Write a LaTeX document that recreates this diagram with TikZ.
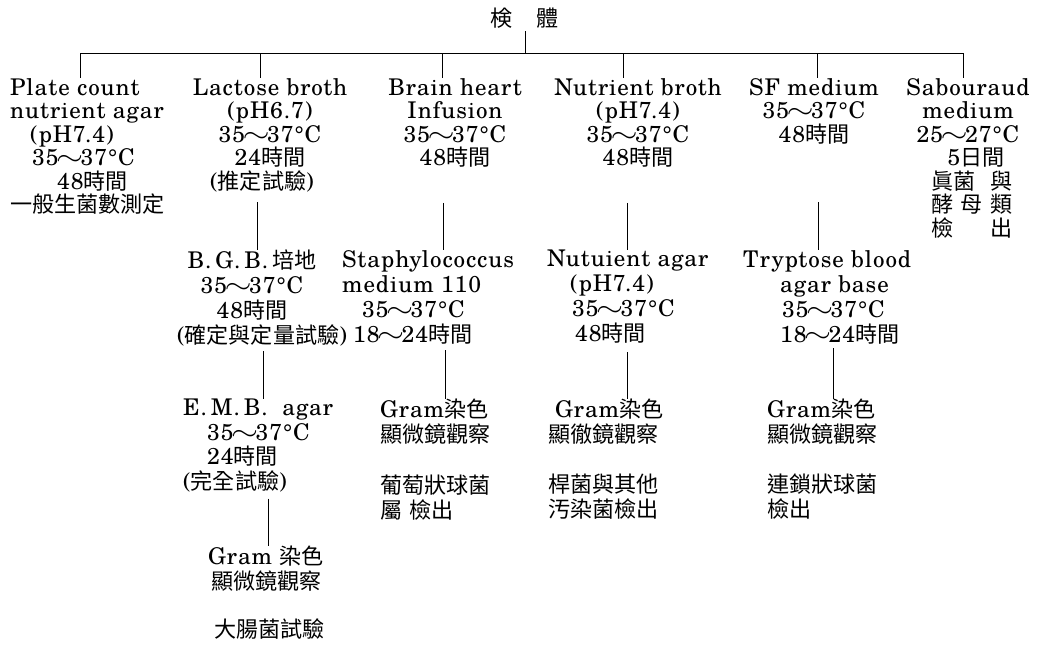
\documentclass[tikz,border=0pt]{standalone}
\usepackage{fontspec}
\usepackage{graphicx}
\IfFontExistsTF{texgyreschola-regular.otf}
  {\setmainfont{texgyreschola-regular.otf}[LetterSpace=4]}
  {\setmainfont{lmroman10-regular.otf}[LetterSpace=5]}
\newfontfamily\cjk{Noto Sans CJK TC}[Scale=0.96]
\newcommand\zh[1]{{\cjk #1}}
\newcommand\wave{\makebox[22pt]{\scalebox{1.4}[1.1]{$\sim$}}}
\newcommand\ind[1]{\kern#1\relax}
\newcommand\topstrut{\vrule width 0pt height 22pt depth 0pt\relax}
\newcommand\botstrut{\vrule width 0pt height 0pt depth 6pt\relax}
\lineskiplimit=-100pt
\lineskip=0pt
\tikzset{
  txt/.style={inner sep=0pt,
    execute at begin node=\topstrut,
    execute at end node=\botstrut},
  lft/.style={txt, align=left, anchor=north west},
  ctr/.style={txt, align=center, anchor=north},
  rowa/.style={font=\fontsize{23pt}{23.5pt}\selectfont},
  rowb/.style={font=\fontsize{23pt}{25pt}\selectfont},
  rowc/.style={font=\fontsize{23pt}{24.5pt}\selectfont},
  conn/.style={line width=0.9pt, black}
}
\begin{document}
\begin{tikzpicture}[x=1pt,y=-1pt]
\useasboundingbox (0,0) rectangle (1041,646);

% title
\node[inner sep=0pt, anchor=base, font=\fontsize{23pt}{24pt}\selectfont] (title) at (525,26) {\zh{検}\hspace{24pt}\zh{體}};

% bar coordinates
\coordinate (bm) at (525,53);
\coordinate (bl) at (80,53);
\coordinate (br) at (963,53);
\coordinate (c1) at (80,53);
\coordinate (c2) at (260,53);
\coordinate (c3) at (442,53);
\coordinate (c4) at (623,53);
\coordinate (c5) at (817,53);
\coordinate (c6) at (963,53);

% row 1
\node[lft, rowa] (plate) at (10,78) {Plate count\\nutrient agar\\\ind{20pt}(pH7.4)\\\ind{22pt}35\wave37°C\\\ind{47pt}48\zh{時間}\\\zh{一般生菌數測定}};
\node[ctr, rowa] (lact) at (270,78) {Lactose broth\\(pH6.7)\\35\wave37°C\\24\zh{時間}\\(\zh{推定試驗})\ind{16pt}};
\node[ctr, rowa] (brain) at (455,78) {Brain heart\\Infusion\\35\wave37°C\\48\zh{時間}};
\node[ctr, rowa] (nbroth) at (638,78) {Nutrient broth\\(pH7.4)\\35\wave37°C\\48\zh{時間}};
\node[ctr, rowa] (sf) at (814,78) {SF medium\\35\wave37°C\\48\zh{時間}};
\node[ctr, rowa] (sab) at (968,78) {Sabouraud\\medium\\25\wave27°C\\\ind{16pt}5\zh{日間}\\\makebox[82pt]{\zh{眞菌}\hfill\zh{與}}\ind{-8pt}\\\makebox[82pt]{\zh{酵}\hfill\zh{母}\hfill\zh{類}}\ind{-8pt}\\\makebox[82pt]{\zh{檢}\hfill\zh{出}}\ind{-8pt}};

% row 2
\node[ctr, rowb] (bgb) at (252,250) {B.\,G.\,B.\,\zh{培地}\\35\wave37°C\\48\zh{時間}\\\ind{20pt}(\zh{確定與定量試驗})};
\node[lft, rowb] (staph) at (342,250) {Staphylococcus\\medium 110\\\ind{20pt}35\wave37°C\\\ind{11pt}18\wave24\zh{時間}};
\node[lft, rowb] (nagar) at (547,250) {Nutuient agar\\\ind{23pt}(pH7.4)\\\ind{25pt}35\wave37°C\\\ind{28pt}48\zh{時間}};
\node[lft, rowb] (tryp) at (743,250) {Tryptose blood\\\ind{37pt}agar base\\\ind{39pt}35\wave37°C\\\ind{37pt}18\wave24\zh{時間}};

% row 3
\node[lft, rowc] (emb) at (183,399) {E.\,M.\,B.\ \ agar\\\ind{24pt}35\wave37°C\\\ind{24pt}24\zh{時間}\\(\zh{完全試驗})};
\node[lft, rowc] (gram3) at (380,399) {Gram\zh{染色}\\\zh{顯微鏡觀察}\\[27pt]\zh{葡萄狀球菌}\\\zh{屬}\ \zh{檢出}};
\node[lft, rowc] (gram4) at (548,399) {\ind{7pt}Gram\zh{染色}\\\zh{顯徹鏡觀察}\\[26pt]\zh{桿菌與其他}\\\zh{汚染菌檢出}};
\node[lft, rowc] (gram5) at (767,399) {Gram\zh{染色}\\\zh{顯微鏡觀察}\\[26pt]\zh{連鎖狀球菌}\\\zh{檢出}};

% row 4
\node[lft, rowc] (gram2) at (208,546) {Gram \zh{染色}\\\ind{3pt}\zh{顯微鏡觀察}\\[24pt]\ind{6pt}\zh{大腸菌試驗}};

% connector x positions
\coordinate (v2a) at (257,0);
\coordinate (v2b) at (263,0);
\coordinate (v2c) at (268,0);
\coordinate (v3a) at (443,0);
\coordinate (v3b) at (445,0);
\coordinate (v4a) at (627,0);
\coordinate (v4b) at (627,0);
\coordinate (v5a) at (818,0);
\coordinate (v5b) at (833,0);

% connectors
\draw[conn, shorten <=3pt] (title.south) -- (bm);
\draw[conn] (bl) -- (br);
\draw[conn] (c1) -- (c1 |- plate.north);
\draw[conn] (c2) -- (c2 |- lact.north);
\draw[conn] (c3) -- (c3 |- brain.north);
\draw[conn] (c4) -- (c4 |- nbroth.north);
\draw[conn] (c5) -- (c5 |- sf.north);
\draw[conn] (c6) -- (c6 |- sab.north);

\draw[conn, shorten <=7pt] (lact.south -| v2a) -- (bgb.north -| v2a);
\draw[conn, shorten <=31pt] (brain.south -| v3a) -- (staph.north -| v3a);
\draw[conn, shorten <=31pt] (nbroth.south -| v4a) -- (nagar.north -| v4a);
\draw[conn, shorten <=54pt] (sf.south -| v5a) -- (tryp.north -| v5a);

\draw[conn, shorten <=1pt] (bgb.south -| v2b) -- (emb.north -| v2b);
\draw[conn, shorten <=2pt] (staph.south -| v3b) -- (gram3.north -| v3b);
\draw[conn, shorten <=4pt] (nagar.south -| v4b) -- (gram4.north -| v4b);
\draw[conn] (tryp.south -| v5b) -- (gram5.north -| v5b);

\draw[conn, shorten <=3pt] (emb.south -| v2c) -- (gram2.north -| v2c);
\end{tikzpicture}
\end{document}
